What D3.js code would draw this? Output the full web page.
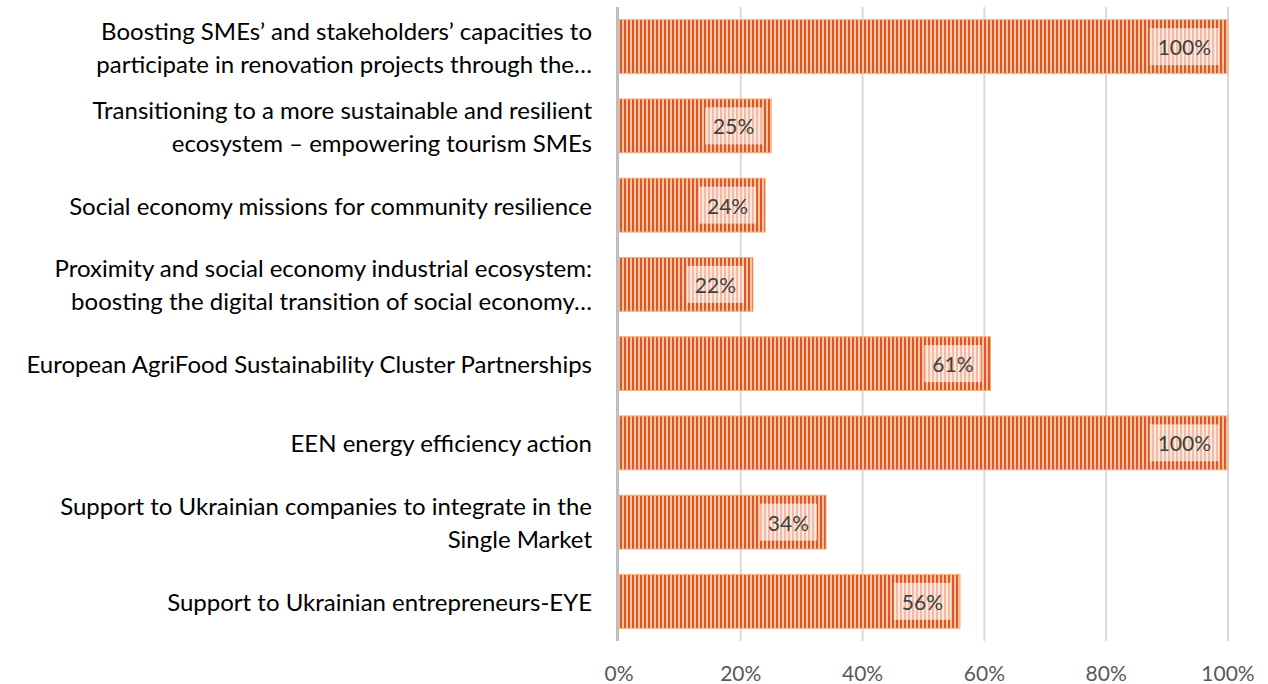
<!DOCTYPE html>
<html>
<head>
<meta charset="utf-8">
<script src="https://cdn.jsdelivr.net/npm/d3@7"></script>
<style>
  body { margin: 0; background: #fff; }
  svg { display: block; font-family: Lato, "Open Sans", sans-serif; }
</style>
</head>
<body>
<div id="chart"></div>
<script>
let categories = [
  ["Boosting SMEs’ and stakeholders’ capacities to", "participate in renovation projects through the…"],
  ["Transitioning to a more sustainable and resilient", "ecosystem – empowering tourism SMEs"],
  ["Social economy missions for community resilience"],
  ["Proximity and social economy industrial ecosystem:", "boosting the digital transition of social economy…"],
  ["European AgriFood Sustainability Cluster Partnerships"],
  ["EEN energy efficiency action"],
  ["Support to Ukrainian companies to integrate in the", "Single Market"],
  ["Support to Ukrainian entrepreneurs-EYE"]
];
let values = [100, 25, 24, 22, 61, 100, 34, 56];
let ticks = [0, 20, 40, 60, 80, 100];

let width = 1268;
let height = 684;
let margin = { top: 7, right: 40, bottom: 43, left: 619 };

let svg = d3.select("#chart")
  .append("svg")
  .attr("width", width)
  .attr("height", height);

// stripe pattern for the bars
let defs = svg.append("defs");
let pat = defs.append("pattern")
  .attr("id", "stripes")
  .attr("patternUnits", "userSpaceOnUse")
  .attr("width", 4)
  .attr("height", 4);
pat.append("rect").attr("width", 4).attr("height", 4).attr("fill", "#f6c2a8");
pat.append("rect").attr("x", 0).attr("width", 2).attr("height", 4).attr("fill", "#e0561f");

let x = d3.scaleLinear()
  .domain([0, 100])
  .range([margin.left, 1228]);

let y = d3.scaleBand()
  .domain(d3.range(categories.length))
  .range([margin.top, height - margin.bottom])
  .paddingInner(0.32)
  .paddingOuter(0.16);

// gridlines
svg.append("g")
  .selectAll("line")
  .data(ticks.filter(d => d > 0))
  .enter().append("line")
  .attr("x1", d => x(d))
  .attr("x2", d => x(d))
  .attr("y1", margin.top)
  .attr("y2", height - margin.bottom)
  .attr("stroke", "#d9d9d9")
  .attr("stroke-width", 2);

// bars
svg.append("g")
  .selectAll("rect")
  .data(values)
  .enter().append("rect")
  .attr("x", x(0))
  .attr("y", (d, i) => y(i))
  .attr("width", d => x(d) - x(0))
  .attr("height", y.bandwidth())
  .attr("fill", "url(#stripes)")
  .attr("stroke", "#f4b183")
  .attr("stroke-width", 1);

// vertical axis line
svg.append("line")
  .attr("x1", x(0) - 1.5)
  .attr("x2", x(0) - 1.5)
  .attr("y1", margin.top)
  .attr("y2", height - margin.bottom)
  .attr("stroke", "#bfbfbf")
  .attr("stroke-width", 3);

// data labels
let lab = svg.append("g")
  .selectAll("g")
  .data(values)
  .enter().append("g");

lab.append("text")
  .attr("x", d => x(d) - 17)
  .attr("y", (d, i) => y(i) + y.bandwidth() / 2)
  .attr("text-anchor", "end")
  .attr("dominant-baseline", "central")
  .attr("fill", "#404040")
  .style("font-size", "21px")
  .text(d => d + "%");

lab.each(function () {
  let g = d3.select(this);
  let bb = g.select("text").node().getBBox();
  g.insert("rect", "text")
    .attr("x", bb.x - 8)
    .attr("y", bb.y - 6)
    .attr("width", bb.width + 16)
    .attr("height", bb.height + 12)
    .attr("fill", "#fff")
    .attr("fill-opacity", 0.6);
});

// category labels
let cat = svg.append("g")
  .selectAll("text")
  .data(categories)
  .enter().append("text")
  .attr("text-anchor", "end")
  .attr("fill", "#000")
  .style("font-size", "24px");

cat.each(function (lines, i) {
  let t = d3.select(this);
  let cy = y(i) + y.bandwidth() / 2;
  let lh = 33;
  let startY = cy - (lines.length - 1) * lh / 2;
  lines.forEach((l, j) => {
    t.append("tspan")
      .attr("x", 592)
      .attr("y", startY + j * lh)
      .attr("dominant-baseline", "central")
      .text(l);
  });
});

// x tick labels
svg.append("g")
  .selectAll("text")
  .data(ticks)
  .enter().append("text")
  .attr("x", d => x(d))
  .attr("y", 672)
  .attr("text-anchor", "middle")
  .attr("dominant-baseline", "central")
  .attr("fill", "#595959")
  .style("font-size", "21px")
  .text(d => d + "%");
</script>
</body>
</html>
